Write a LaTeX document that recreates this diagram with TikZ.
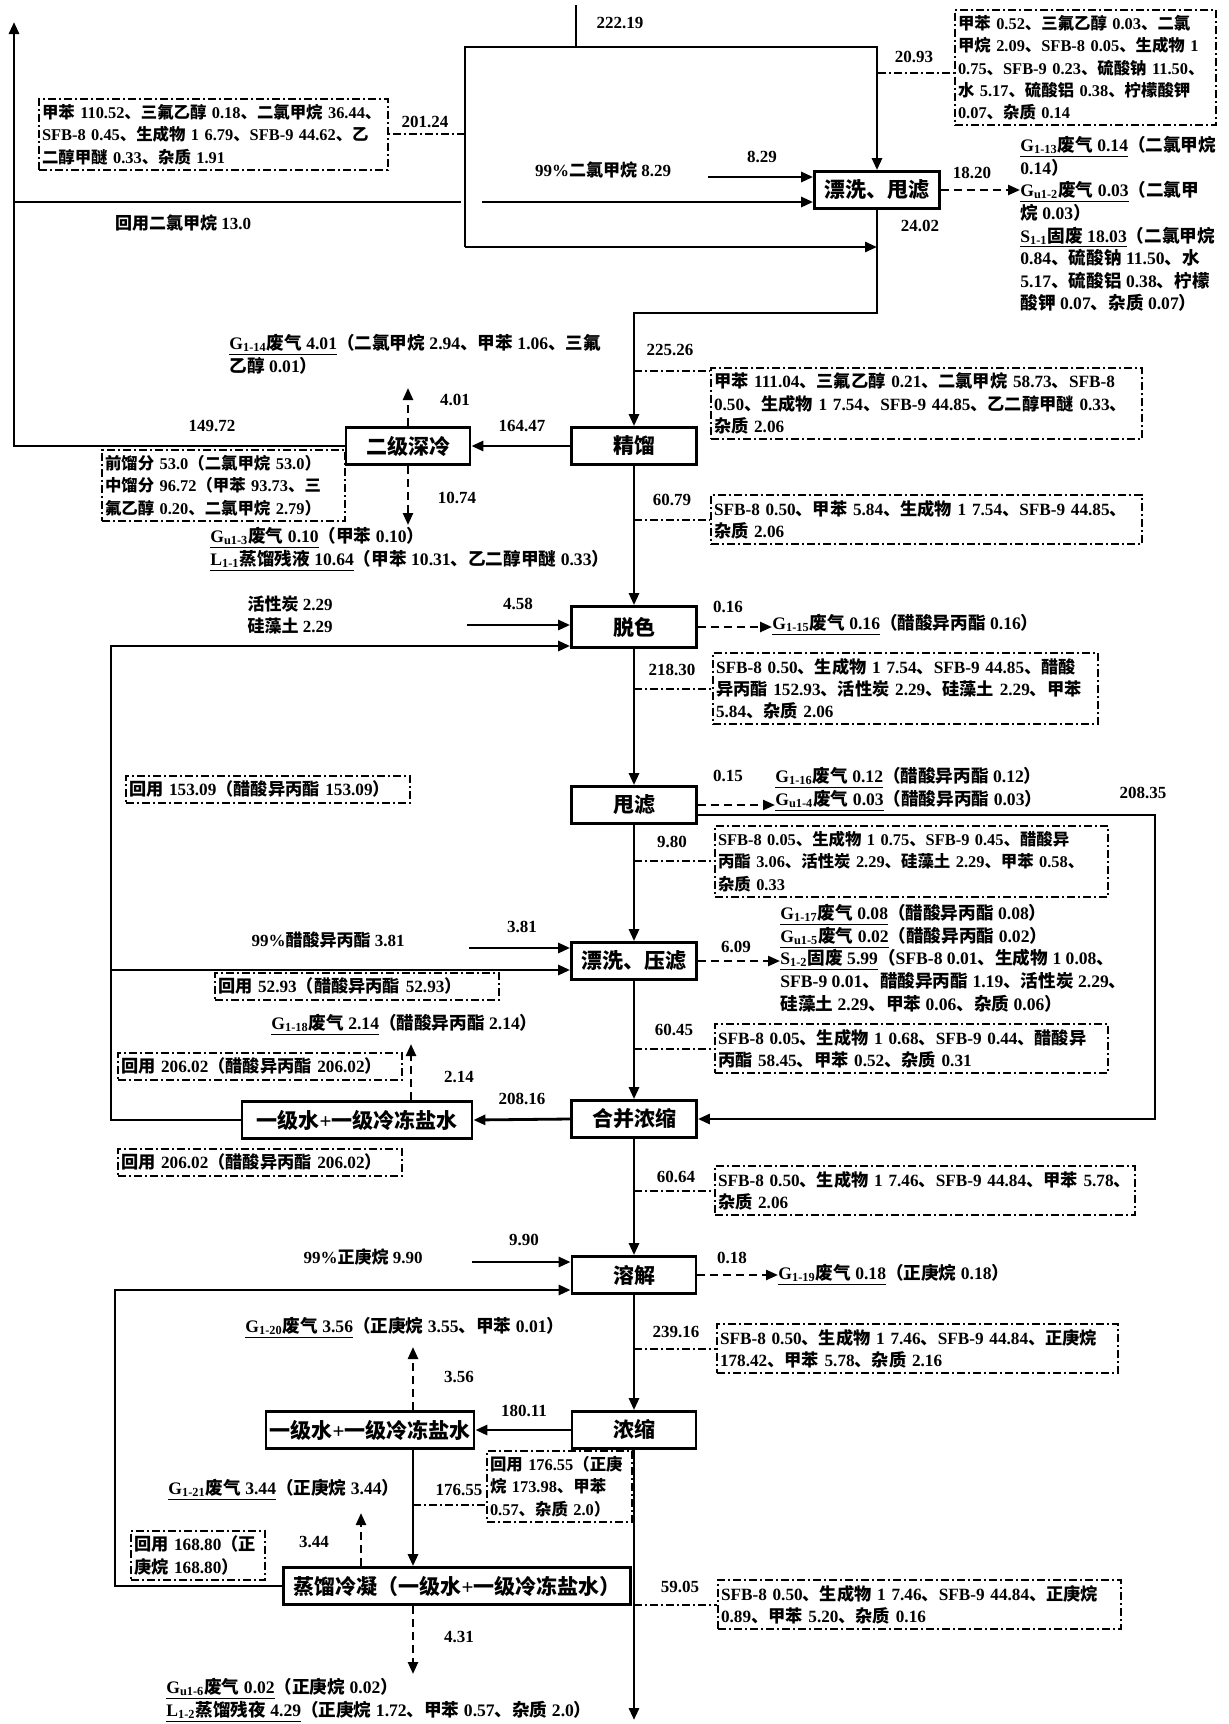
\documentclass[tikz,border=0pt]{standalone}
\usepackage{fontspec}
\setmainfont{Liberation Serif}
\newfontfamily\cjkfont{Noto Sans CJK SC}
\usetikzlibrary{arrows.meta}
\XeTeXinterchartokenstate=1
\newXeTeXintercharclass\cjkclass
\newcount\cjkcnt
\newcommand\setcjkrange[2]{\cjkcnt=#1\relax
  \loop\XeTeXcharclass\cjkcnt=\cjkclass
  \ifnum\cjkcnt<#2\advance\cjkcnt by 1\relax\repeat}
\setcjkrange{"3000}{"303F}
\setcjkrange{"4E00}{"9FFF}
\setcjkrange{"FF00}{"FFEF}
\XeTeXinterchartoks 0 \cjkclass = {\cjkfont}
\XeTeXinterchartoks 4095 \cjkclass = {\cjkfont}
\XeTeXinterchartoks \cjkclass 0 = {\rmfamily}
\XeTeXinterchartoks \cjkclass 4095 = {\rmfamily}

\begin{document}
\begin{tikzpicture}[x=0.5pt, y=-0.5pt,
  every node/.style={font=\fontsize{8.5}{11}\selectfont\bfseries},
  proc/.style={draw, line width=1.4pt, minimum height=18.5pt, inner sep=1pt, font=\fontsize{10.5}{12}\selectfont\bfseries},
  info/.style={draw, line width=1pt, dash pattern=on 4pt off 1.5pt on 1pt off 1.5pt, anchor=north west, align=left, inner xsep=1.5pt, inner ysep=2.5pt, font=\fontsize{8.6}{11.2}\selectfont\bfseries},
  tight/.style={font=\fontsize{8.2}{11.2}\selectfont\bfseries},
  waste/.style={align=left, inner sep=0pt, font=\fontsize{8.8}{11.3}\selectfont\bfseries},
  pipe/.style={line width=1.4pt},
  flow/.style={line width=1.4pt, -{Triangle[length=6pt,width=5pt]}},
  gas/.style={line width=1.2pt, dash pattern=on 4pt off 2.5pt, -{Triangle[length=6pt,width=5pt]}},
  dd/.style={line width=1pt, dash pattern=on 4pt off 1.5pt on 1pt off 1.5pt}]
  \useasboundingbox (0,0) rectangle (1228,1724);

  \coordinate (in0) at (576,5);
  \coordinate (ftl) at (465,47);
  \coordinate (fbl) at (465,247);
  \coordinate (fk) at (634,313);
  \coordinate (lvt) at (14,22);
  \coordinate (dcmj) at (14,202);
  \coordinate (dcmg) at (461,202);
  \coordinate (dcmh) at (482,202);
  \coordinate (dcmin) at (708,177);
  \coordinate (c2093) at (878,73);
  \coordinate (v401) at (408,388);
  \coordinate (v1074) at (408,525);
  \coordinate (c2526) at (634,371);
  \coordinate (cin) at (467,625);
  \coordinate (rl1) at (111,646);
  \coordinate (rl1b) at (111,970);
  \coordinate (rr) at (1155,815);
  \coordinate (ipin) at (469,948);
  \coordinate (v214) at (411,1044);
  \coordinate (hpin) at (472,1262);
  \coordinate (rl2) at (115,1290);
  \coordinate (v356) at (413,1347);
  \coordinate (c17655) at (413,1505);
  \coordinate (v344) at (361,1513);
  \coordinate (v431) at (413,1674);
  \coordinate (out) at (634,1720);

  \node[proc, minimum width=62.5pt] (wash1) at (877,190) {漂洗、甩滤};
  \node[proc, minimum width=62.5pt] (rect) at (634,446) {精馏};
  \node[proc, minimum width=62pt] (cold2) at (408,446) {二级深冷};
  \node[proc, minimum width=62.5pt, minimum height=20.5pt] (decol) at (634,627) {脱色};
  \node[proc, minimum width=62.5pt] (spin) at (634,805) {甩滤};
  \node[proc, minimum width=62.5pt] (wash2) at (634,961) {漂洗、压滤};
  \node[proc, minimum width=62.5pt] (merge) at (634,1119) {合并浓缩};
  \node[proc, minimum width=115pt] (cond1) at (357,1120) {一级水+一级冷冻盐水};
  \node[proc, minimum width=62pt] (dissolve) at (634,1275) {溶解};
  \node[proc, minimum width=62pt] (conc) at (634,1430) {浓缩};
  \node[proc, minimum width=104pt] (cond2) at (370,1430) {一级水+一级冷冻盐水};
  \node[proc, minimum width=173.5pt] (distil) at (457,1586) {蒸馏冷凝（一级水+一级冷冻盐水）};

  \node[info, tight, text width=171.5pt] (t1) at (38,98) {甲苯 110.52、三氟乙醇 0.18、二氯甲烷 36.44、\\SFB-8 0.45、生成物 1 6.79、SFB-9 44.62、乙\\二醇甲醚 0.33、杂质 1.91};
  \node[info, tight, text width=127.5pt] (t2) at (954,9) {甲苯 0.52、三氟乙醇 0.03、二氯\\甲烷 2.09、SFB-8 0.05、生成物 1\\0.75、SFB-9 0.23、硫酸钠 11.50、\\水 5.17、硫酸铝 0.38、柠檬酸钾\\0.07、杂质 0.14};
  \node[info, text width=212.5pt] (t3) at (710,367) {甲苯 111.04、三氟乙醇 0.21、二氯甲烷 58.73、SFB-8\\0.50、生成物 1 7.54、SFB-9 44.85、乙二醇甲醚 0.33、\\杂质 2.06};
  \node[info, tight, text width=118.5pt] (t4) at (101,449) {前馏分 53.0（二氯甲烷 53.0）\\中馏分 96.72（甲苯 93.73、三\\氟乙醇 0.20、二氯甲烷 2.79）};
  \node[info, text width=212.5pt] (t5) at (710,494) {SFB-8 0.50、甲苯 5.84、生成物 1 7.54、SFB-9 44.85、\\杂质 2.06};
  \node[info, text width=189.5pt] (t6) at (712,652) {SFB-8 0.50、生成物 1 7.54、SFB-9 44.85、醋酸\\异丙酯 152.93、活性炭 2.29、硅藻土 2.29、甲苯\\5.84、杂质 2.06};
  \node[info, tight, text width=193.5pt] (t7) at (714,825) {SFB-8 0.05、生成物 1 0.75、SFB-9 0.45、醋酸异\\丙酯 3.06、活性炭 2.29、硅藻土 2.29、甲苯 0.58、\\杂质 0.33};
  \node[info, text width=193.5pt] (t8) at (714,1023) {SFB-8 0.05、生成物 1 0.68、SFB-9 0.44、醋酸异\\丙酯 58.45、甲苯 0.52、杂质 0.31};
  \node[info, text width=207pt] (t9) at (714,1165) {SFB-8 0.50、生成物 1 7.46、SFB-9 44.84、甲苯 5.78、\\杂质 2.06};
  \node[info, text width=197.5pt] (t10) at (716,1323) {SFB-8 0.50、生成物 1 7.46、SFB-9 44.84、正庚烷\\178.42、甲苯 5.78、杂质 2.16};
  \node[info, text width=198.5pt] (t11) at (717,1579) {SFB-8 0.50、生成物 1 7.46、SFB-9 44.84、正庚烷\\0.89、甲苯 5.20、杂质 0.16};
  \node[info, text width=139pt] (r1) at (125,775) {回用 153.09（醋酸异丙酯 153.09）};
  \node[info, text width=139pt] (r2) at (214,972) {回用 52.93（醋酸异丙酯 52.93）};
  \node[info, text width=139pt] (r3) at (117,1052) {回用 206.02（醋酸异丙酯 206.02）};
  \node[info, text width=139pt] (r4) at (117,1148) {回用 206.02（醋酸异丙酯 206.02）};
  \node[info, tight, text width=69.5pt] (r5) at (486,1450) {回用 176.55（正庚\\烷 173.98、甲苯\\0.57、杂质 2.0）};
  \node[info, text width=64pt] (r6) at (130,1530) {回用 168.80（正\\庚烷 168.80）};

  \node[waste, anchor=north west] (w1) at (1020,136) {\underline{G\textsubscript{1-13}废气 0.14}（二氯甲烷\\0.14）\\\underline{G\textsubscript{u1-2}废气 0.03}（二氯甲\\烷 0.03）\\\underline{S\textsubscript{1-1}固废 18.03}（二氯甲烷\\0.84、硫酸钠 11.50、水\\5.17、硫酸铝 0.38、柠檬\\酸钾 0.07、杂质 0.07）};
  \node[waste, anchor=north west] (g14) at (229,334) {\underline{G\textsubscript{1-14}废气 4.01}（二氯甲烷 2.94、甲苯 1.06、三氟\\乙醇 0.01）};
  \node[waste, anchor=north west] (w2) at (210,527) {\underline{G\textsubscript{u1-3}废气 0.10}（甲苯 0.10）\\\underline{L\textsubscript{1-1}蒸馏残液 10.64}（甲苯 10.31、乙二醇甲醚 0.33）};
  \node[waste, anchor=west] (g15) at (772,625) {\underline{G\textsubscript{1-15}废气 0.16}（醋酸异丙酯 0.16）};
  \node[waste, anchor=north west] (g16) at (775,767) {\underline{G\textsubscript{1-16}废气 0.12}（醋酸异丙酯 0.12）\\\underline{G\textsubscript{u1-4}废气 0.03}（醋酸异丙酯 0.03）};
  \node[waste, anchor=north west] (s12) at (780,904) {\underline{G\textsubscript{1-17}废气 0.08}（醋酸异丙酯 0.08）\\\underline{G\textsubscript{u1-5}废气 0.02}（醋酸异丙酯 0.02）\\\underline{S\textsubscript{1-2}固废 5.99}（SFB-8 0.01、生成物 1 0.08、\\SFB-9 0.01、醋酸异丙酯 1.19、活性炭 2.29、\\硅藻土 2.29、甲苯 0.06、杂质 0.06）};
  \node[waste, anchor=west] (g18) at (271,1025) {\underline{G\textsubscript{1-18}废气 2.14}（醋酸异丙酯 2.14）};
  \node[waste, anchor=west] (g19) at (778,1275) {\underline{G\textsubscript{1-19}废气 0.18}（正庚烷 0.18）};
  \node[waste, anchor=west] (g20) at (245,1328) {\underline{G\textsubscript{1-20}废气 3.56}（正庚烷 3.55、甲苯 0.01）};
  \node[waste, anchor=west] (g21) at (168,1490) {\underline{G\textsubscript{1-21}废气 3.44}（正庚烷 3.44）};
  \node[waste, anchor=north west] (w6) at (166,1678) {\underline{G\textsubscript{u1-6}废气 0.02}（正庚烷 0.02）\\\underline{L\textsubscript{1-2}蒸馏残夜 4.29}（正庚烷 1.72、甲苯 0.57、杂质 2.0）};

  \node (m829) at (603,170) {99\%二氯甲烷 8.29};
  \node (m130) at (183,223) {回用二氯甲烷 13.0};
  \node[align=center] (m229) at (290,615) {活性炭 2.29\\硅藻土 2.29};
  \node (m381) at (328,940) {99\%醋酸异丙酯 3.81};
  \node (m990) at (363,1257) {99\%正庚烷 9.90};

  \node (l2219) at (620,23) {222.19};
  \node (l2093) at (914,57) {20.93};
  \node (l20124) at (425,122) {201.24};
  \node (l829) at (762,157) {8.29};
  \node (l1820) at (972,173) {18.20};
  \node (l2402) at (920,226) {24.02};
  \node (l22526) at (670,350) {225.26};
  \node (l401) at (455,400) {4.01};
  \node (l14972) at (212,426) {149.72};
  \node (l16447) at (522,426) {164.47};
  \node (l1074) at (457,498) {10.74};
  \node (l6079) at (672,500) {60.79};
  \node (l458) at (518,604) {4.58};
  \node (l016) at (728,607) {0.16};
  \node (l21830) at (672,670) {218.30};
  \node (l015) at (728,776) {0.15};
  \node (l20835) at (1143,793) {208.35};
  \node (l980) at (672,842) {9.80};
  \node (l381) at (522,927) {3.81};
  \node (l609) at (736,947) {6.09};
  \node (l6045) at (674,1030) {60.45};
  \node (l214) at (459,1077) {2.14};
  \node (l20816) at (522,1099) {208.16};
  \node (l6064) at (676,1177) {60.64};
  \node (l990) at (524,1240) {9.90};
  \node (l018) at (732,1258) {0.18};
  \node (l23916) at (676,1332) {239.16};
  \node (l356) at (459,1377) {3.56};
  \node (l18011) at (524,1411) {180.11};
  \node (l17655) at (459,1490) {176.55};
  \node (l344) at (314,1542) {3.44};
  \node (l5905) at (680,1587) {59.05};
  \node (l431) at (459,1637) {4.31};

  \draw[pipe] (in0) -- (in0 |- ftl);
  \draw[flow] (fbl) -- (ftl) -| (wash1.north);
  \draw[flow] (fbl) -- (wash1.south |- fbl);
  \draw[flow] (wash1.south) |- (fk) -- (rect.north);
  \draw[flow] (cold2.west) -| (lvt);
  \draw[pipe] (dcmj) -- (dcmg);
  \draw[flow] (dcmh) -- (dcmh -| wash1.west);
  \draw[flow] (dcmin) -- (dcmin -| wash1.west);
  \draw[dd] (fbl |- t1.east) -- (t1.east);
  \draw[dd] (c2093) -- (c2093 -| t2.west);
  \draw[gas] (wash1.east) -- (wash1.east -| w1.west);
  \draw[flow] (rect.west) -- (cold2.east);
  \draw[gas] (cold2.north) -- (v401);
  \draw[gas] (cold2.south) -- (v1074);
  \draw[dd] (c2526) -- (c2526 -| t3.west);
  \draw[flow] (rect.south) -- (decol.north);
  \draw[dd] (rect.south |- t5.west) -- (t5.west);
  \draw[flow] (cin) -- (cin -| decol.west);
  \draw[flow] (cond1.west) -| (rl1) -- (rl1 -| decol.west);
  \draw[flow] (rl1b) -- (rl1b -| wash2.west);
  \draw[gas] (decol.east) -- (decol.east -| g15.west);
  \draw[dd] (decol.south |- t6.west) -- (t6.west);
  \draw[flow] (decol.south) -- (spin.north);
  \draw[gas] (spin.east) -- (spin.east -| g16.west);
  \draw[flow] (spin.east |- rr) -- (rr) |- (merge.east);
  \draw[dd] (spin.south |- t7.west) -- (t7.west);
  \draw[flow] (spin.south) -- (wash2.north);
  \draw[flow] (ipin) -- (ipin -| wash2.west);
  \draw[gas] (wash2.east) -- (wash2.east -| s12.west);
  \draw[dd] (wash2.south |- t8.west) -- (t8.west);
  \draw[flow] (wash2.south) -- (merge.north);
  \draw[flow] (merge.west) -- (cond1.east);
  \draw[gas] (v214 |- cond1.north) -- (v214);
  \draw[dd] (merge.south |- t9.west) -- (t9.west);
  \draw[flow] (merge.south) -- (dissolve.north);
  \draw[flow] (hpin) -- (hpin -| dissolve.west);
  \draw[flow] (distil.west) -| (rl2) -- (rl2 -| dissolve.west);
  \draw[gas] (dissolve.east) -- (dissolve.east -| g19.west);
  \draw[dd] (dissolve.south |- t10.west) -- (t10.west);
  \draw[flow] (dissolve.south) -- (conc.north);
  \draw[flow] (conc.west) -- (cond2.east);
  \draw[gas] (v356 |- cond2.north) -- (v356);
  \draw[flow] (v356 |- cond2.south) -- (v356 |- distil.north);
  \draw[dd] (c17655) -- (c17655 -| r5.west);
  \draw[gas] (v344 |- distil.north) -- (v344);
  \draw[gas] (v431 |- distil.south) -- (v431);
  \draw[flow] (conc.south) -- (out);
  \draw[dd] (conc.south |- t11.west) -- (t11.west);
\end{tikzpicture}
\end{document}
